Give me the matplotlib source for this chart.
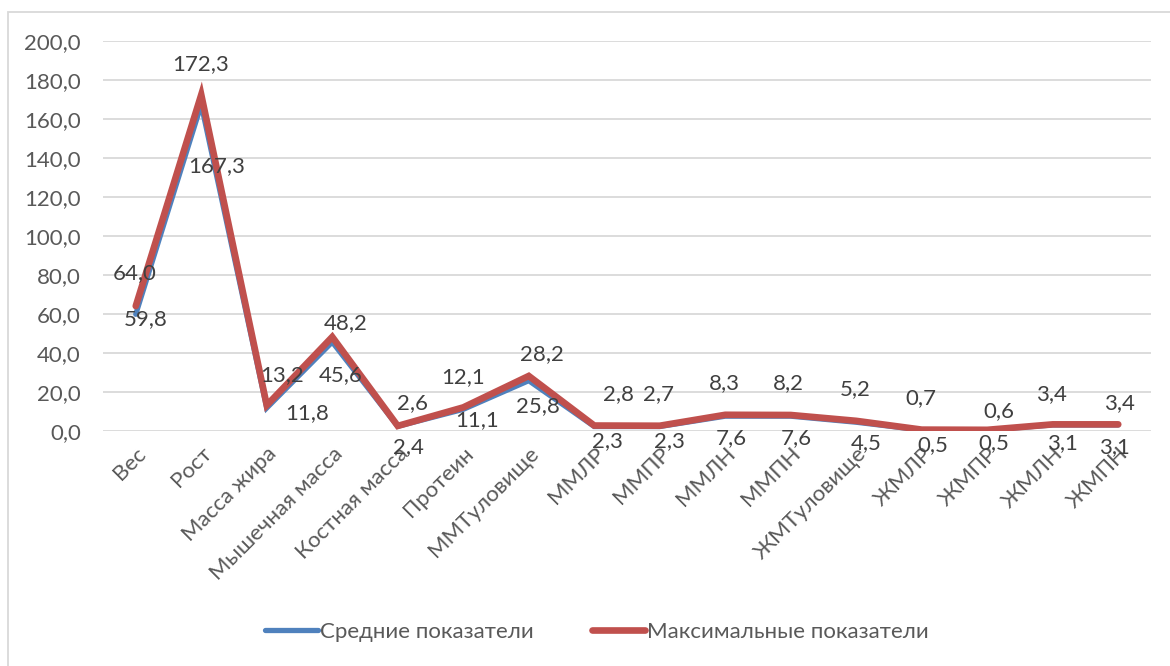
import numpy as np
import matplotlib.pyplot as plt
from matplotlib.patches import Rectangle
from matplotlib.ticker import FuncFormatter

plt.rcParams['font.family'] = ['Lato', 'DejaVu Sans']

# categories and values
categories = ['Вес', 'Рост', 'Масса жира', 'Мышечная масса', 'Костная масса', 'Протеин',
              'ММТуловище', 'ММЛР', 'ММПР', 'ММЛН', 'ММПН', 'ЖМТуловище',
              'ЖМЛР', 'ЖМПР', 'ЖМЛН', 'ЖМПН']
mean_vals = [59.8, 167.3, 11.8, 45.6, 2.4, 11.1, 25.8, 2.3, 2.3, 7.6, 7.6, 4.5, 0.5, 0.5, 3.1, 3.1]
max_vals = [64.0, 172.3, 13.2, 48.2, 2.6, 12.1, 28.2, 2.8, 2.7, 8.3, 8.2, 5.2, 0.7, 0.6, 3.4, 3.4]

# data label offsets in pixels (dx, dy), as placed in the original
mean_offsets = [(10, -5), (15, -62), (40, -5), (8, -33), (11, -21), (14, -11), (9, -25), (13, -15),
                (10, -15), (6, -22), (6, -22), (10, -21), (11, -15), (7, -13), (10, -18), (-4, -22)]
max_offsets = [(-1, 33), (-1, 31), (15, 30), (13, 14), (15, 23), (0, 30), (13, 22), (24, 31),
               (-1, 32), (-1, 32), (-2, 32), (-1, 32), (-1, 32), (12, 19), (-1, 30), (1, 21)]

blue = '#4F81BD'
red = '#C0504D'
txt = '#404040'

fig = plt.figure(figsize=(11.7, 6.66), dpi=100)
ax = fig.add_axes([103 / 1170, 1 - 431 / 666, (1151 - 103) / 1170, (431 - 40.7) / 666])

x = np.arange(len(categories))
ax.plot(x, mean_vals, color=blue, lw=3.8, solid_capstyle='round', solid_joinstyle='miter',
        label='Средние показатели', zorder=3)
ax.plot(x, max_vals, color=red, lw=4.8, solid_capstyle='round', solid_joinstyle='miter',
        label='Максимальные показатели', zorder=4)

for i in range(len(categories)):
    ax.annotate(f'{mean_vals[i]:.1f}'.replace('.', ','), (x[i], mean_vals[i]),
                xytext=mean_offsets[i], textcoords='offset pixels',
                ha='center', va='center', fontsize=16, color=txt, zorder=5)
    ax.annotate(f'{max_vals[i]:.1f}'.replace('.', ','), (x[i], max_vals[i]),
                xytext=max_offsets[i], textcoords='offset pixels',
                ha='center', va='center', fontsize=16, color=txt, zorder=5)

ax.set_xlim(-0.5, len(categories) - 0.5)
ax.set_ylim(0, 200)
ax.set_yticks(np.arange(0, 201, 20))
ax.yaxis.set_major_formatter(FuncFormatter(lambda v, p: f'{v:.1f}'.replace('.', ',')))
ax.set_xticks(x)
ax.set_xticklabels(categories, rotation=45, ha='right', rotation_mode='anchor')
ax.tick_params(axis='both', length=0, labelsize=16, labelcolor='#595959')
ax.tick_params(axis='x', pad=9)
ax.tick_params(axis='y', pad=16)
ax.grid(axis='y', color='#D9D9D9', lw=1.3)
ax.set_axisbelow(True)
for s in ax.spines.values():
    s.set_visible(False)

fig.legend(loc='center', bbox_to_anchor=(597 / 1170, 1 - 632 / 666), ncol=2, frameon=False,
           fontsize=16, handlelength=2.4, handletextpad=0.1, columnspacing=2.6,
           labelcolor='#595959')

# chart border (left and top edges visible)
fig.add_artist(Rectangle((8 / 1170, -0.05), 1.2, (666 - 12) / 666 + 0.05,
                         transform=fig.transFigure, fill=False, ec='#D9D9D9', lw=1.3))

fig.savefig('out.png', dpi=100)
